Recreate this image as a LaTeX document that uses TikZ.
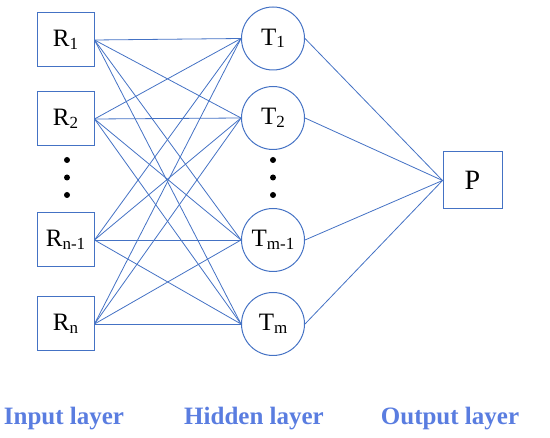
\documentclass[tikz,border=0pt]{standalone}
\usepackage{fontspec}
\setmainfont{Liberation Serif}
\definecolor{edgeblue}{HTML}{4472C4}
\definecolor{labelblue}{HTML}{5A7DE0}
\newcommand{\lbl}[2]{#1\raisebox{-0.1em}{\fontsize{17}{17}\selectfont #2}}
\begin{document}
\begin{tikzpicture}[x=1pt,y=-1pt,
  inbox/.style={draw=edgeblue,line width=1pt,minimum width=57pt,minimum height=54pt,inner sep=0pt,font=\fontsize{25}{25}\selectfont},
  hid/.style={draw=edgeblue,line width=1pt,circle,minimum size=63pt,inner sep=0pt,font=\fontsize{25}{25}\selectfont},
  conn/.style={draw=edgeblue,line width=0.8pt},
  layerlbl/.style={text=labelblue,font=\fontsize{25}{25}\selectfont\bfseries,anchor=base},
  dotmark/.style={fill=black,circle,inner sep=0pt,minimum size=6pt}]
\useasboundingbox (0,0) rectangle (550,438);
\node[inbox] (r1) at (65.5,40) {\lbl{R}{1}};
\node[inbox] (r2) at (65.5,119) {\lbl{R}{2}};
\node[inbox] (r3) at (65.5,240) {\lbl{R}{n-1}};
\node[inbox] (r4) at (65.5,324) {\lbl{R}{n}};
\node[hid] (t1) at (273,38.5) {\lbl{T}{1}};
\node[hid] (t2) at (273,118) {\lbl{T}{2}};
\node[hid] (t3) at (273,240) {\lbl{T}{m-1}};
\node[hid] (t4) at (273,324) {\lbl{T}{m}};
\node[inbox,minimum width=59pt,minimum height=57pt,font=\fontsize{28}{28}\selectfont] (p) at (472.5,180.5) {P};
\foreach \i in {1,2,3,4}{
  \foreach \j in {1,2,3,4}{
    \draw[conn] (r\i.east) -- (t\j.west);
  }
  \draw[conn] (t\i.east) -- (p.west);
}
\node[dotmark] (ld1) at (67,160) {};
\node[dotmark] (ld2) at (67,177.5) {};
\node[dotmark] (ld3) at (67,195) {};
\node[dotmark] (md1) at (273,160) {};
\node[dotmark] (md2) at (273,177.5) {};
\node[dotmark] (md3) at (273,195) {};
\node[layerlbl] (l1) at (64,425) {Input layer};
\node[layerlbl] (l2) at (254,425) {Hidden layer};
\node[layerlbl] (l3) at (450,425) {Output layer};
\end{tikzpicture}
\end{document}
